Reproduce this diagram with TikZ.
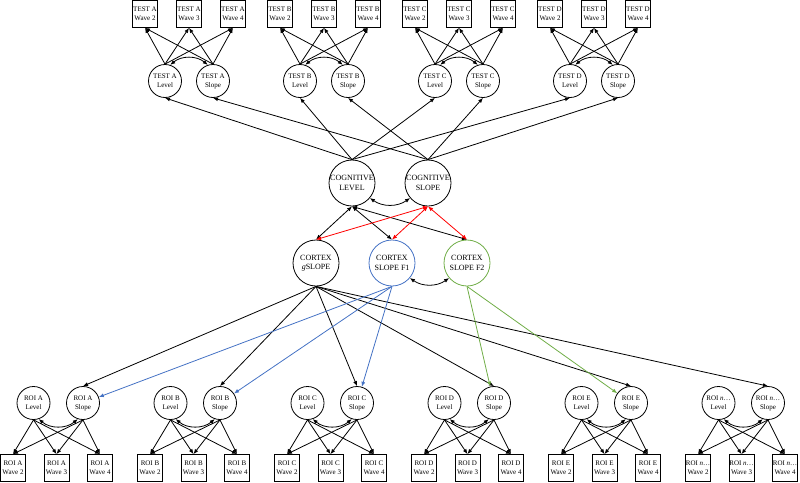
\documentclass[tikz,border=0pt]{standalone}
\usepackage{fontspec}
\setmainfont{Liberation Serif}
\usepackage{tikz}
\usetikzlibrary{arrows.meta}

\definecolor{fblue}{RGB}{68,114,196}
\definecolor{fgreen}{RGB}{112,173,71}

\begin{document}
\begin{tikzpicture}[
    x=1pt, y=-1pt,
    >={Latex[length=5pt, width=4pt]},
    arr/.style={->, line width=0.8pt},
    cov/.style={<->, line width=0.8pt},
    obs/.style={draw, line width=0.8pt, minimum width=25pt, minimum height=27pt, inner sep=0pt, align=center, font=\fontsize{7}{9}\selectfont},
    lat/.style={draw, circle, line width=0.8pt, minimum size=33pt, inner sep=0pt, align=center, font=\fontsize{7}{9}\selectfont},
    bigl/.style={lat, minimum size=46pt, font=\fontsize{8}{9.5}\selectfont},
]
\useasboundingbox (0,0) rectangle (800,482);
% ============================================================
% TOP:  test factors and their waves
% ============================================================
\foreach \t/\x in {A/145, B/280, C/415, D/550} {
    \foreach \w/\dx in {2/0, 3/44, 4/88} {
        \node[obs] (tw\t\w) at (\x+\dx, 14) {TEST \t\\Wave \w};
    }
    \node[lat] (tlev\t) at (\x+20, 81) {TEST \t\\Level};
    \node[lat] (tslp\t) at (\x+68, 81) {TEST \t\\Slope};
    \foreach \w in {2,3,4} {
        \draw[arr] (tlev\t.north) -- (tw\t\w.south);
        \draw[arr] (tslp\t.north) -- (tw\t\w.south);
    }
    \draw[cov] (tlev\t.72) to[bend left=40] (tslp\t.108);
}
% ============================================================
% MIDDLE:  cognitive level / slope
% ============================================================
\node[bigl] (cogL) at (352,183) {COGNITIVE\\LEVEL};
\node[bigl] (cogS) at (428,183) {COGNITIVE\\SLOPE};
\foreach \t in {A,B,C,D} {
    \draw[arr] (cogL.north) -- (tlev\t.south);
    \draw[arr] (cogS.north) -- (tslp\t.south);
}
\draw[cov] (cogL.-40) to[bend right=35] (cogS.-140);
% --- cortex factors ---
\node[bigl] (gslp) at (316,263) {CORTEX\\\textit{g}SLOPE};
\node[bigl, draw=fblue] (f1slp) at (392,263) {CORTEX\\SLOPE F1};
\node[bigl, draw=fgreen] (f2slp) at (467,263) {CORTEX\\SLOPE F2};
\foreach \c in {gslp, f1slp, f2slp} {
    \draw[cov] (cogL.south) -- (\c.north);
}
\foreach \c in {gslp, f1slp, f2slp} {
    \draw[cov, red] (cogS.south) -- (\c.north);
}
\draw[cov] (f1slp.-40) to[bend right=35] (f2slp.-140);
% ============================================================
% BOTTOM:  ROI factors and their waves
% ============================================================
\foreach \r/\lbl/\x in {A/A/13, B/B/150, C/C/287, D/D/424, E/E/561, n/{\textit{n}\ldots}/698} {
    \foreach \w/\dx in {2/0, 3/43.5, 4/87} {
        \node[obs] (rw\r\w) at (\x+\dx, 468) {ROI \lbl\\Wave \w};
    }
    \node[lat] (rlev\r) at (\x+20.5, 403) {ROI \lbl\\Level};
    \node[lat] (rslp\r) at (\x+70, 403) {ROI \lbl\\Slope};
    \foreach \w in {2,3,4} {
        \draw[arr] (rlev\r.south) -- (rw\r\w.north);
        \draw[arr] (rslp\r.south) -- (rw\r\w.north);
    }
    \draw[cov] (rlev\r.-72) to[bend right=40] (rslp\r.-108);
}
% --- cortex -> ROI slopes ---
\foreach \r in {A,B,C,D,E,n} {
    \draw[arr] (gslp.south) -- (rslp\r.north);
}
\foreach \r in {A,B,C} {
    \draw[arr, fblue] (f1slp.south) -- (rslp\r);
}
\foreach \r in {D,E} {
    \draw[arr, fgreen] (f2slp.south) -- (rslp\r);
}
\end{tikzpicture}
\end{document}
